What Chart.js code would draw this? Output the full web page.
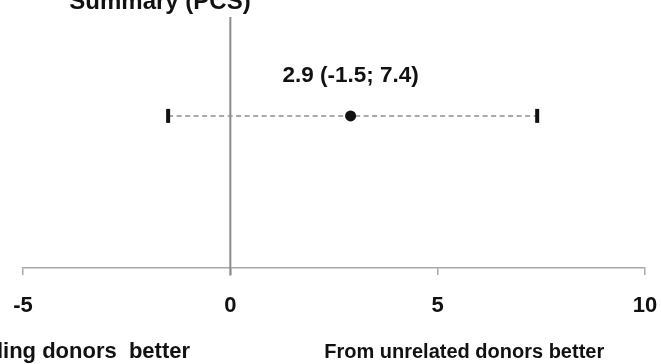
<!DOCTYPE html>
<html>
<head>
<meta charset="utf-8">
<script src="https://cdn.jsdelivr.net/npm/chart.js@4.4.1/dist/chart.umd.min.js"></script>
<style>
  html, body { margin: 0; padding: 0; background: #fff; }
  #wrap { width: 661px; height: 364px; position: relative; }
</style>
</head>
<body>
<div id="wrap"><canvas id="c"></canvas></div>
<script>
// ---- data ----
const chartTitle = 'Summary (PCS)';
const estimate = [2.9];
const lowerCI = [-1.5];
const upperCI = [7.4];
const rowLevel = [0.606];
const estimateLabel = ['2.9 (-1.5; 7.4)'];
const tickValues = [-5, 0, 5, 10];
const axisMin = -5, axisMax = 10;
const favourLabels = ['From sibling donors  better', 'From unrelated donors better'];
const favourCenters = [-4.42, 5.64];

const FONT = '"Liberation Sans", Arial, sans-serif';

const textPlugin = {
  id: 'texts',
  afterDraw(chart) {
    const ctx = chart.ctx;
    const xs = chart.scales.x, ys = chart.scales.y;
    ctx.save();
    ctx.fillStyle = '#111';
    ctx.textAlign = 'center';
    ctx.textBaseline = 'alphabetic';
    // title (cut at top)
    ctx.font = 'bold 24px ' + FONT;
    ctx.fillText(chartTitle, 160, 9);
    // estimate label
    ctx.font = 'bold 22.5px ' + FONT;
    estimate.forEach((v, i) => {
      ctx.fillText(estimateLabel[i], xs.getPixelForValue(v), ys.getPixelForValue(rowLevel[i]) - 34);
    });
    // favour labels
    favourLabels.forEach((t, i) => {
      ctx.font = (i === 0 ? 'bold 22px ' : 'bold 20px ') + FONT;
      ctx.fillText(t, xs.getPixelForValue(favourCenters[i]), 358);
    });
    ctx.restore();
  }
};

new Chart(document.getElementById('c'), {
  type: 'scatter',
  data: {
    datasets: [
      {
        type: 'line',
        order: 3,
        data: [{x: 0, y: -0.03}, {x: 0, y: 1}],
        borderColor: '#8a8a8a',
        borderWidth: 2,
        pointRadius: 0,
        clip: false
      },
      {
        type: 'line',
        order: 2,
        data: estimate.map((v, i) => ({x: lowerCI[i], y: rowLevel[i]})).concat(
              estimate.map((v, i) => ({x: upperCI[i], y: rowLevel[i]}))),
        borderColor: '#8e8e8e',
        borderWidth: 1.5,
        borderDash: [5, 3.5],
        pointStyle: 'line',
        rotation: 90,
        pointRadius: 7,
        pointBorderWidth: 4,
        pointBorderColor: '#111',
        clip: false
      },
      {
        order: 1,
        data: estimate.map((v, i) => ({x: v, y: rowLevel[i]})),
        pointRadius: 5.5,
        pointBackgroundColor: '#111',
        pointBorderColor: '#111',
        pointBorderWidth: 0
      }
    ]
  },
  options: {
    responsive: true,
    maintainAspectRatio: false,
    animation: false,
    layout: { padding: { left: 23, right: 16, top: 17, bottom: 0 } },
    plugins: { legend: { display: false }, tooltip: { enabled: false }, title: { display: false } },
    scales: {
      x: {
        type: 'linear',
        min: axisMin, max: axisMax,
        afterBuildTicks(scale) { scale.ticks = tickValues.map(v => ({value: v})); },
        afterFit(scale) { scale.height = 96; scale.paddingLeft = 0; scale.paddingRight = 0; },
        border: { display: true, color: '#a8a8a8', width: 1.5 },
        grid: { drawOnChartArea: false, drawTicks: true, tickLength: 7, color: '#a8a8a8', lineWidth: 1.5 },
        ticks: { color: '#111', font: { family: FONT, size: 22, weight: 'bold' }, padding: 18, maxRotation: 0 }
      },
      y: { display: false, min: 0, max: 1 }
    }
  },
  plugins: [textPlugin]
});
</script>
</body>
</html>
